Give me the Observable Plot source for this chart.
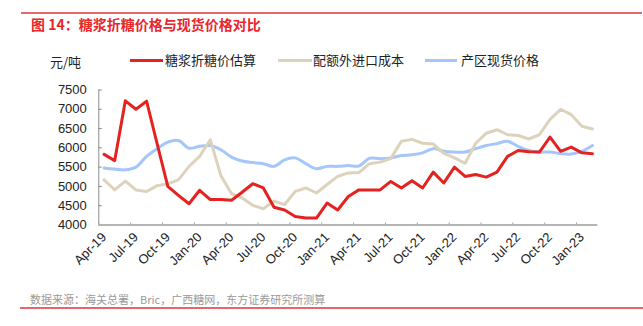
<!DOCTYPE html>
<html>
<head>
<meta charset="utf-8">
<script src="https://cdn.jsdelivr.net/npm/d3@7"></script>
<script src="https://cdn.jsdelivr.net/npm/@observablehq/plot@0.6"></script>
<style>
  html, body { margin: 0; padding: 0; background: #fff; }
  #page { position: relative; width: 643px; height: 326px; overflow: hidden; font-family: "Liberation Sans", Arial, "Noto Sans CJK SC", sans-serif; }
  .abs { position: absolute; white-space: nowrap; }
  .cjk { font-family: "Noto Sans CJK SC", sans-serif; }
  .sw { position: absolute; height: 3px; }
  #chart { position: absolute; left: 0; top: 70px; }
</style>
</head>
<body>
<div id="page">
  <div class="abs" style="left:21px; top:12px; width:621px; height:2px; background:#e8656a;"></div>
  <div class="abs cjk" style="left:31px; top:15px; font-size:14px; font-weight:bold; color:#e8262b; line-height:18px;">图 14：糖浆折糖价格与现货价格对比</div>

  <div class="abs cjk" style="left:50px; top:53px; font-size:13px; color:#222; line-height:17px;">元/吨</div>

  <div class="sw" style="left:130px; top:59px; width:33px; background:#e42320;"></div>
  <div class="abs cjk" style="left:165px; top:51px; font-size:13px; color:#222; line-height:17px;">糖浆折糖价估算</div>
  <div class="sw" style="left:278px; top:59px; width:34px; background:#ddd3bd;"></div>
  <div class="abs cjk" style="left:313px; top:51px; font-size:13px; color:#222; line-height:17px;">配额外进口成本</div>
  <div class="sw" style="left:425px; top:59px; width:32px; background:#a4c6fb;"></div>
  <div class="abs cjk" style="left:461px; top:51px; font-size:13px; color:#222; line-height:17px;">产区现货价格</div>

  <div id="chart"></div>

  <div class="abs cjk" style="left:30px; top:292px; font-size:11px; color:#9a9a9a; line-height:15px;">数据来源：海关总署，Bric，广西糖网，东方证券研究所测算</div>
  <div class="abs" style="left:20px; top:307px; width:623px; height:1.5px; background:#e8656a;"></div>
</div>
<script>
const months = ["Apr-19","May-19","Jun-19","Jul-19","Aug-19","Sep-19","Oct-19","Nov-19","Dec-19","Jan-20","Feb-20","Mar-20",
  "Apr-20","May-20","Jun-20","Jul-20","Aug-20","Sep-20","Oct-20","Nov-20","Dec-20","Jan-21","Feb-21","Mar-21",
  "Apr-21","May-21","Jun-21","Jul-21","Aug-21","Sep-21","Oct-21","Nov-21","Dec-21","Jan-22","Feb-22","Mar-22",
  "Apr-22","May-22","Jun-22","Jul-22","Aug-22","Sep-22","Oct-22","Nov-22","Dec-22","Jan-23","Feb-23"];

const tickLabels = ["Apr-19","Jul-19","Oct-19","Jan-20","Apr-20","Jul-20","Oct-20","Jan-21","Apr-21","Jul-21","Oct-21","Jan-22","Apr-22","Jul-22","Oct-22","Jan-23"];
const yTicks = [4000,4500,5000,5500,6000,6500,7000,7500];

const syrupSugar = [5830,5670,7220,7000,7210,6100,5000,4770,4550,4900,4660,4660,4640,4850,5070,4960,4460,4390,4220,4180,4180,4570,4390,4740,4910,4910,4910,5130,4960,5150,4960,5370,5090,5500,5260,5310,5240,5370,5780,5930,5900,5890,6280,5910,6020,5870,5850];
const importCost = [5170,4910,5140,4910,4870,5020,5070,5170,5520,5780,6210,5280,4810,4700,4510,4420,4620,4530,4870,4960,4830,5050,5260,5350,5360,5590,5630,5720,6170,6220,6120,6100,5860,5740,5600,6120,6380,6470,6340,6320,6230,6340,6740,7000,6860,6560,6490];
const spotPrice = [5480,5450,5430,5500,5780,5980,6150,6190,5990,6040,6060,5950,5760,5660,5620,5590,5520,5690,5740,5590,5460,5520,5520,5540,5530,5730,5720,5740,5800,5820,5870,5980,5910,5890,5890,5980,6060,6110,6170,6040,5930,5890,5890,5850,5840,5910,6060];

const rows = (vals) => vals.map((v, i) => ({i, month: months[i], v}));
const labelPos = tickLabels.map(l => months.indexOf(l));
const boundaryPos = labelPos.map(p => p - 0.5);

const chart = Plot.plot({
  width: 643,
  height: 230,
  marginLeft: 98.3,
  marginRight: 45.7,
  marginTop: 19.5,
  marginBottom: 75.5,
  style: {background: "transparent", overflow: "visible", fontFamily: "'Liberation Sans', Arial, sans-serif"},
  x: {type: "linear", domain: [-0.5, months.length - 0.5]},
  y: {domain: [4000, 7500]},
  marks: [
    Plot.ruleX([-0.5], {stroke: "#8c8c8c", strokeWidth: 1}),
    Plot.ruleY(yTicks, {x1: -0.5, x2: -0.17, stroke: "#8c8c8c", strokeWidth: 1}),
    Plot.ruleX(boundaryPos, {y1: 4000, y2: 4055, stroke: "#a8a8a8", strokeWidth: 1}),
    Plot.ruleY([4000], {stroke: "#b4b4b4", strokeWidth: 2}),
    Plot.axisY(yTicks, {tickSize: 0, tickPadding: 12, fontSize: 13, fill: "#222", label: null, tickFormat: d => String(d)}),
    Plot.axisX(labelPos, {tickSize: 0, tickPadding: 10, tickRotate: -45, fontSize: 13, fill: "#222",
      tickFormat: d => months[d], label: null}),
    Plot.line(rows(spotPrice), {x: "i", y: "v", stroke: "#a4c6fb", strokeWidth: 3, curve: "catmull-rom"}),
    Plot.line(rows(importCost), {x: "i", y: "v", stroke: "#ddd3bd", strokeWidth: 3}),
    Plot.line(rows(syrupSugar), {x: "i", y: "v", stroke: "#e42320", strokeWidth: 3})
  ]
});
document.getElementById("chart").appendChild(chart);
</script>
</body>
</html>
